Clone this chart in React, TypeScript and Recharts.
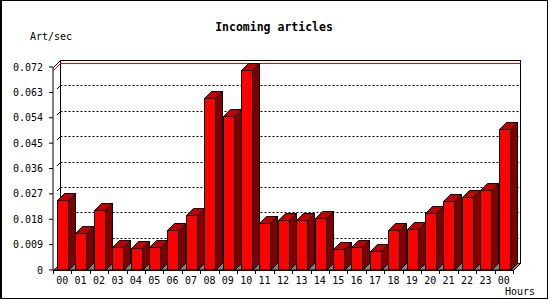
import { BarChart, Bar, XAxis, YAxis, ReferenceLine, ReferenceArea } from 'recharts';

// hourly incoming article rate (articles per second)
const hours = ['00', '01', '02', '03', '04', '05', '06', '07', '08', '09', '10', '11', '12', '13', '14', '15', '16', '17', '18', '19', '20', '21', '22', '23', '00'];
const rates = [
  0.0248, 0.013, 0.0213, 0.008, 0.0077, 0.008, 0.0142, 0.0194, 0.0609, 0.0545, 0.0708, 0.0166, 0.0176,
  0.0176, 0.0183, 0.0073, 0.0083, 0.0066, 0.0141, 0.0144, 0.0202, 0.0244, 0.0258, 0.0283, 0.05,
];
const yTicks = [0, 0.009, 0.018, 0.027, 0.036, 0.045, 0.054, 0.063, 0.072];
const gridTicks = [0.009, 0.018, 0.027, 0.036, 0.045, 0.054, 0.063];

const W = 550;
const H = 300;
const Y_AXIS_W = 53;
const margin = { top: 67, right: 37, bottom: 0, left: 0 };
const DEPTH = 7;
const FONT = '"DejaVu Sans Mono", monospace';

const data = hours.map((hour, i) => ({ hour, rate: rates[i] }));
const maxRate = Math.max(...rates);
const bandWidth = (W - Y_AXIS_W - margin.right) / hours.length;

const px = (v: number) => Math.round(v) + 0.5;

// front, top and side faces of a 3d bar
function Bar3D(props: any) {
  const { x, y, width, height } = props;
  if (!height || height <= 0) return null;
  const d = DEPTH;
  const l = px(x);
  const r = px(x + width);
  const t = px(y);
  const b = px(y + height);
  return (
    <g>
      <polygon points={`${l},${t} ${l + d},${t - d} ${r + d},${t - d} ${r},${t}`} fill="#c00000" stroke="#000" />
      <polygon points={`${r},${t} ${r + d},${t - d} ${r + d},${b - d} ${r},${b}`} fill="#800000" stroke="#000" />
      <rect x={l} y={t} width={r - l} height={b - t} fill="#ff0000" stroke="#000" />
    </g>
  );
}

// back wall + floor
function Wall(props: any) {
  const { x, y, width, height } = props;
  const d = DEPTH;
  const l = px(x);
  const r = px(x + width);
  const t = px(y);
  const b = px(y + height);
  return (
    <g>
      <rect x={l + d} y={t - d} width={r - l} height={b - t} fill="#fff" stroke="#000" />
      <polygon points={`${l},${b} ${r},${b} ${r + d},${b - d} ${l + d},${b - d}`} fill="#808080" stroke="#000" />
      <line x1={l} y1={t} x2={l + d} y2={t - d} stroke="#000" />
    </g>
  );
}

function GridLine(props: any) {
  const { x1, y1, x2 } = props;
  const d = DEPTH;
  const l = px(x1);
  const yy = px(y1);
  return (
    <g>
      <line x1={l + 3.5} y1={yy - 3.5} x2={l + d} y2={yy - d} stroke="#000" />
      <line x1={l + d} y1={yy - d} x2={px(x2) + d} y2={yy - d} stroke="#000" strokeDasharray="2 2" />
    </g>
  );
}

function MaxLine(props: any) {
  const { x1, y1, x2 } = props;
  const d = DEPTH;
  const l = px(x1);
  const yy = px(y1);
  return (
    <g>
      <line x1={l} y1={yy} x2={l + d} y2={yy - d} stroke="#ff0000" />
      <line x1={l + d} y1={yy - d} x2={px(x2) + d} y2={yy - d} stroke="#ff0000" />
    </g>
  );
}

function HourTick(props: any) {
  const { x, y, payload, index } = props;
  const axisY = y - 4;
  const left = px(x - bandWidth / 2);
  const right = px(x + bandWidth / 2);
  return (
    <g>
      <line x1={left} y1={axisY} x2={left} y2={axisY + 4} stroke="#000" />
      {index === hours.length - 1 && <line x1={right} y1={axisY} x2={right} y2={axisY + 4} stroke="#000" />}
      <text x={x} y={axisY} dy={13.5} textAnchor="middle" fontFamily={FONT} fontSize={10} fill="#000">
        {payload.value}
      </text>
    </g>
  );
}

const label = (v: number) => (v === 0 ? '0' : v.toFixed(3));

export default function App() {
  return (
    <div style={{ position: 'absolute', left: 0, top: 0, width: W, height: H, background: '#fff' }}>
      <div
        style={{
          position: 'absolute',
          left: 0,
          top: 0,
          width: 548,
          height: 299,
          boxSizing: 'border-box',
          borderTop: '1px solid #000',
          borderRight: '1px solid #000',
          borderBottom: '1px solid #000',
          borderLeft: '2px solid #000',
        }}
      />
      <div
        style={{
          position: 'absolute',
          left: 0,
          top: 21,
          width: 548,
          textAlign: 'center',
          fontFamily: FONT,
          fontWeight: 'bold',
          fontSize: 11.5,
          lineHeight: '12px',
        }}
      >
        Incoming articles
      </div>
      <div style={{ position: 'absolute', left: 30, top: 31, fontFamily: FONT, fontSize: 10, lineHeight: '12px' }}>Art/sec</div>
      <div style={{ position: 'absolute', left: 505, top: 286, fontFamily: FONT, fontSize: 10, lineHeight: '12px' }}>Hours</div>
      <div style={{ position: 'absolute', left: 0, top: 0 }}>
        <BarChart width={W} height={H} data={data} margin={margin} barSize={11}>
          <ReferenceArea y1={0} y2={0.072} shape={Wall} zIndex={-90} />
          {gridTicks.map((t) => (
            <ReferenceLine key={t} y={t} shape={GridLine} zIndex={-80} />
          ))}
          <ReferenceLine y={maxRate} shape={MaxLine} zIndex={-70} />
          <XAxis
            dataKey="hour"
            height={30}
            interval={0}
            tickLine={false}
            tickSize={4}
            tickMargin={0}
            tick={HourTick}
            axisLine={{ stroke: '#000' }}
          />
          <YAxis
            width={Y_AXIS_W}
            domain={[0, 0.072]}
            ticks={yTicks}
            interval={0}
            tickFormatter={label}
            tickSize={4}
            tickMargin={6}
            tickLine={{ stroke: '#000' }}
            axisLine={{ stroke: '#000' }}
            tick={{ fontFamily: FONT, fontSize: 10, fill: '#000' }}
          />
          <Bar dataKey="rate" shape={Bar3D} isAnimationActive={false} />
        </BarChart>
      </div>
    </div>
  );
}
